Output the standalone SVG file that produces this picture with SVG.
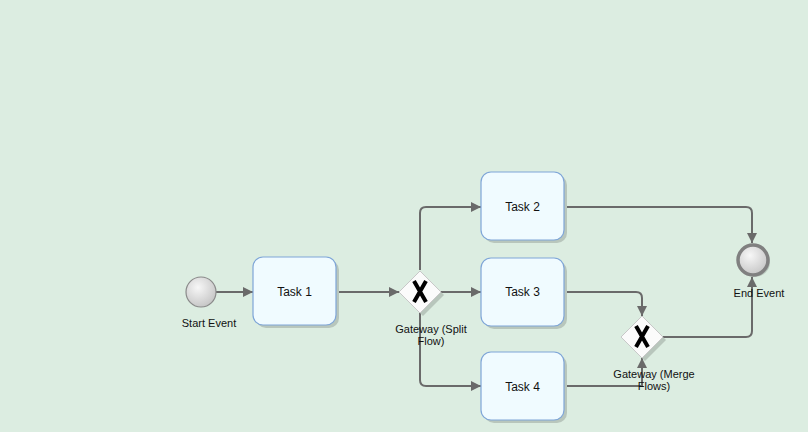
<svg xmlns="http://www.w3.org/2000/svg" width="808" height="432" viewBox="0 0 808 432">
<defs>
<radialGradient id="evg" cx="0.4" cy="0.35" r="0.7">
<stop offset="0" stop-color="#f7f7f7"/><stop offset="1" stop-color="#c4c4c4"/>
</radialGradient>
<marker id="ah" markerWidth="10" markerHeight="10" refX="10" refY="5" orient="auto" markerUnits="userSpaceOnUse">
<path d="M0,0 L10,5 L0,10 z" fill="#6a6a6a"/>
</marker>
<style>
.task{fill:#f0fbff;stroke:#7fa6d8;stroke-width:1.2}
.shadow{fill:#b8c6bc}
.gw{fill:#fbfbfb;stroke:#c8c8c8;stroke-width:1}
.x{stroke:#000;stroke-width:4;stroke-linecap:butt}
.conn{fill:none;stroke:#6a6a6a;stroke-width:2;marker-end:url(#ah)}
text{font-family:"Liberation Sans",Arial,sans-serif;font-size:11px;fill:#111;text-anchor:middle}
.tl{font-size:12px}
</style>
</defs>
<rect width="808" height="432" fill="#dcede1"/>
<g id="connectors">
<path class="conn" d="M216,292 H253"/>
<path class="conn" d="M336,292 H399"/>
<path class="conn" d="M441,292 H481"/>
<path class="conn" d="M420,270 V213 Q420,207 426,207 H481"/>
<path class="conn" d="M420,312 V380 Q420,386 426,386 H481"/>
<path class="conn" d="M564,207 H746 Q752,207 752,213 V243"/>
<path class="conn" d="M564,292 H636 Q642,292 642,298 V316"/>
<path class="conn" d="M564,386 H642 V358"/>
<path class="conn" d="M663,337 H746 Q752,337 752,331 V277"/>
</g>
<g id="start">
<circle cx="201" cy="292" r="15" fill="url(#evg)" stroke="#8a8a8a" stroke-width="1.2"/>
<text x="209" y="327">Start Event</text>
</g>
<g id="task1">
<rect class="shadow" x="256" y="260" width="83" height="68" rx="10"/>
<rect class="task" x="253" y="257" width="83" height="68" rx="10"/>
<text class="tl" x="294.5" y="296">Task 1</text>
</g>
<g id="task2">
<rect class="shadow" x="484" y="175" width="83" height="68" rx="10"/>
<rect class="task" x="481" y="172" width="83" height="68" rx="10"/>
<text class="tl" x="522.5" y="211">Task 2</text>
</g>
<g id="task3">
<rect class="shadow" x="484" y="261" width="83" height="68" rx="10"/>
<rect class="task" x="481" y="258" width="83" height="68" rx="10"/>
<text class="tl" x="522.5" y="296">Task 3</text>
</g>
<g id="task4">
<rect class="shadow" x="484" y="355" width="83" height="68" rx="10"/>
<rect class="task" x="481" y="352" width="83" height="68" rx="10"/>
<text class="tl" x="522.5" y="391">Task 4</text>
</g>
<g id="gateway-split">
<path class="shadow" d="M423,274 L444,295 L423,316 L402,295 z"/>
<path class="gw" d="M420,271 L441,292 L420,313 L399,292 z"/>
<path class="x" d="M414,281 L426,302 M426,281 L414,302"/>
<text x="431" y="333">Gateway (Split</text>
<text x="431" y="345">Flow)</text>
</g>
<g id="gateway-merge">
<path class="shadow" d="M645,319 L666,340 L645,361 L624,340 z"/>
<path class="gw" d="M642,316 L663,337 L642,358 L621,337 z"/>
<path class="x" d="M636,326 L648,347 M648,326 L636,347"/>
<text x="654" y="378">Gateway (Merge</text>
<text x="654" y="390">Flows)</text>
</g>
<g id="end">
<circle cx="755" cy="262" r="15" fill="#b8c6bc"/>
<circle cx="753" cy="260" r="15" fill="url(#evg)" stroke="#808080" stroke-width="3.5"/>
<text x="759" y="297">End Event</text>
</g>
</svg>
